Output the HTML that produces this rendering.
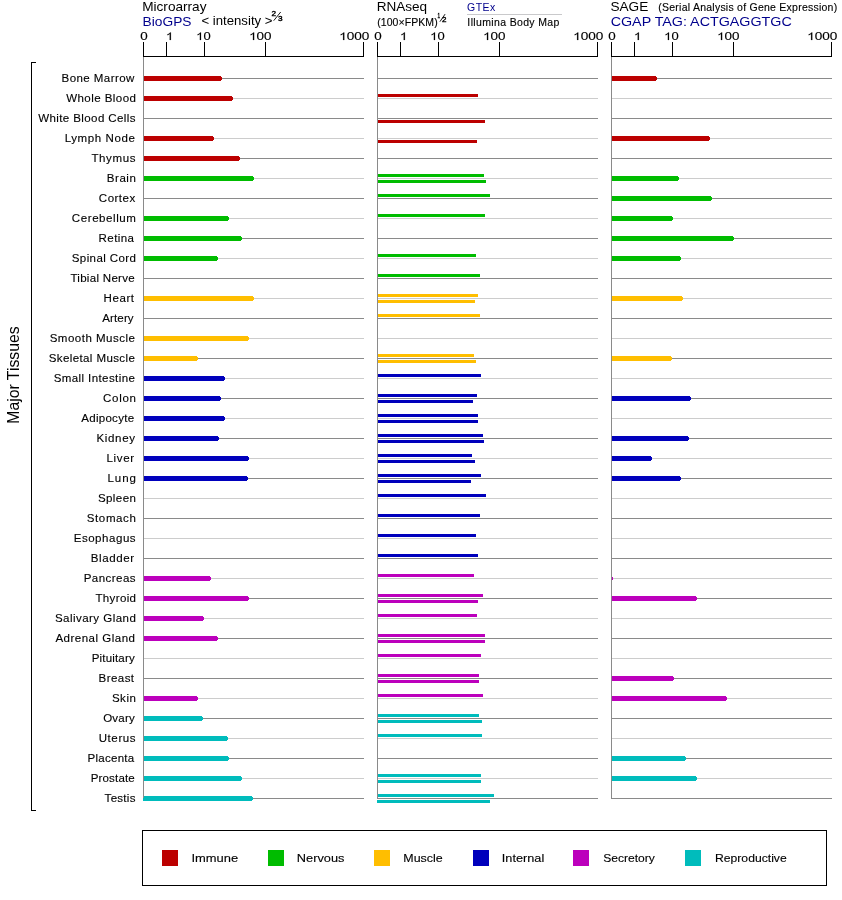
<!DOCTYPE html>
<html><head><meta charset="utf-8"><title>Expression</title>
<style>html,body{margin:0;padding:0;background:#fff;overflow:hidden}svg{display:block;will-change:transform}text{font-family:"Liberation Sans", sans-serif;}</style></head><body>
<svg width="842" height="900" viewBox="0 0 842 900">
<rect width="842" height="900" fill="#fff"/>
<g shape-rendering="crispEdges">
<rect x="143" y="78" width="221" height="1" fill="#8a8a8a"/>
<rect x="377" y="78" width="221" height="1" fill="#8a8a8a"/>
<rect x="611" y="78" width="221" height="1" fill="#8a8a8a"/>
<rect x="143" y="98" width="221" height="1" fill="#cccccc"/>
<rect x="377" y="98" width="221" height="1" fill="#cccccc"/>
<rect x="611" y="98" width="221" height="1" fill="#cccccc"/>
<rect x="143" y="118" width="221" height="1" fill="#8a8a8a"/>
<rect x="377" y="118" width="221" height="1" fill="#8a8a8a"/>
<rect x="611" y="118" width="221" height="1" fill="#8a8a8a"/>
<rect x="143" y="138" width="221" height="1" fill="#cccccc"/>
<rect x="377" y="138" width="221" height="1" fill="#cccccc"/>
<rect x="611" y="138" width="221" height="1" fill="#cccccc"/>
<rect x="143" y="158" width="221" height="1" fill="#8a8a8a"/>
<rect x="377" y="158" width="221" height="1" fill="#8a8a8a"/>
<rect x="611" y="158" width="221" height="1" fill="#8a8a8a"/>
<rect x="143" y="178" width="221" height="1" fill="#cccccc"/>
<rect x="377" y="178" width="221" height="1" fill="#cccccc"/>
<rect x="611" y="178" width="221" height="1" fill="#cccccc"/>
<rect x="143" y="198" width="221" height="1" fill="#8a8a8a"/>
<rect x="377" y="198" width="221" height="1" fill="#8a8a8a"/>
<rect x="611" y="198" width="221" height="1" fill="#8a8a8a"/>
<rect x="143" y="218" width="221" height="1" fill="#cccccc"/>
<rect x="377" y="218" width="221" height="1" fill="#cccccc"/>
<rect x="611" y="218" width="221" height="1" fill="#cccccc"/>
<rect x="143" y="238" width="221" height="1" fill="#8a8a8a"/>
<rect x="377" y="238" width="221" height="1" fill="#8a8a8a"/>
<rect x="611" y="238" width="221" height="1" fill="#8a8a8a"/>
<rect x="143" y="258" width="221" height="1" fill="#cccccc"/>
<rect x="377" y="258" width="221" height="1" fill="#cccccc"/>
<rect x="611" y="258" width="221" height="1" fill="#cccccc"/>
<rect x="143" y="278" width="221" height="1" fill="#8a8a8a"/>
<rect x="377" y="278" width="221" height="1" fill="#8a8a8a"/>
<rect x="611" y="278" width="221" height="1" fill="#8a8a8a"/>
<rect x="143" y="298" width="221" height="1" fill="#cccccc"/>
<rect x="377" y="298" width="221" height="1" fill="#cccccc"/>
<rect x="611" y="298" width="221" height="1" fill="#cccccc"/>
<rect x="143" y="318" width="221" height="1" fill="#8a8a8a"/>
<rect x="377" y="318" width="221" height="1" fill="#8a8a8a"/>
<rect x="611" y="318" width="221" height="1" fill="#8a8a8a"/>
<rect x="143" y="338" width="221" height="1" fill="#cccccc"/>
<rect x="377" y="338" width="221" height="1" fill="#cccccc"/>
<rect x="611" y="338" width="221" height="1" fill="#cccccc"/>
<rect x="143" y="358" width="221" height="1" fill="#8a8a8a"/>
<rect x="377" y="358" width="221" height="1" fill="#8a8a8a"/>
<rect x="611" y="358" width="221" height="1" fill="#8a8a8a"/>
<rect x="143" y="378" width="221" height="1" fill="#cccccc"/>
<rect x="377" y="378" width="221" height="1" fill="#cccccc"/>
<rect x="611" y="378" width="221" height="1" fill="#cccccc"/>
<rect x="143" y="398" width="221" height="1" fill="#8a8a8a"/>
<rect x="377" y="398" width="221" height="1" fill="#8a8a8a"/>
<rect x="611" y="398" width="221" height="1" fill="#8a8a8a"/>
<rect x="143" y="418" width="221" height="1" fill="#cccccc"/>
<rect x="377" y="418" width="221" height="1" fill="#cccccc"/>
<rect x="611" y="418" width="221" height="1" fill="#cccccc"/>
<rect x="143" y="438" width="221" height="1" fill="#8a8a8a"/>
<rect x="377" y="438" width="221" height="1" fill="#8a8a8a"/>
<rect x="611" y="438" width="221" height="1" fill="#8a8a8a"/>
<rect x="143" y="458" width="221" height="1" fill="#cccccc"/>
<rect x="377" y="458" width="221" height="1" fill="#cccccc"/>
<rect x="611" y="458" width="221" height="1" fill="#cccccc"/>
<rect x="143" y="478" width="221" height="1" fill="#8a8a8a"/>
<rect x="377" y="478" width="221" height="1" fill="#8a8a8a"/>
<rect x="611" y="478" width="221" height="1" fill="#8a8a8a"/>
<rect x="143" y="498" width="221" height="1" fill="#cccccc"/>
<rect x="377" y="498" width="221" height="1" fill="#cccccc"/>
<rect x="611" y="498" width="221" height="1" fill="#cccccc"/>
<rect x="143" y="518" width="221" height="1" fill="#8a8a8a"/>
<rect x="377" y="518" width="221" height="1" fill="#8a8a8a"/>
<rect x="611" y="518" width="221" height="1" fill="#8a8a8a"/>
<rect x="143" y="538" width="221" height="1" fill="#cccccc"/>
<rect x="377" y="538" width="221" height="1" fill="#cccccc"/>
<rect x="611" y="538" width="221" height="1" fill="#cccccc"/>
<rect x="143" y="558" width="221" height="1" fill="#8a8a8a"/>
<rect x="377" y="558" width="221" height="1" fill="#8a8a8a"/>
<rect x="611" y="558" width="221" height="1" fill="#8a8a8a"/>
<rect x="143" y="578" width="221" height="1" fill="#cccccc"/>
<rect x="377" y="578" width="221" height="1" fill="#cccccc"/>
<rect x="611" y="578" width="221" height="1" fill="#cccccc"/>
<rect x="143" y="598" width="221" height="1" fill="#8a8a8a"/>
<rect x="377" y="598" width="221" height="1" fill="#8a8a8a"/>
<rect x="611" y="598" width="221" height="1" fill="#8a8a8a"/>
<rect x="143" y="618" width="221" height="1" fill="#cccccc"/>
<rect x="377" y="618" width="221" height="1" fill="#cccccc"/>
<rect x="611" y="618" width="221" height="1" fill="#cccccc"/>
<rect x="143" y="638" width="221" height="1" fill="#8a8a8a"/>
<rect x="377" y="638" width="221" height="1" fill="#8a8a8a"/>
<rect x="611" y="638" width="221" height="1" fill="#8a8a8a"/>
<rect x="143" y="658" width="221" height="1" fill="#cccccc"/>
<rect x="377" y="658" width="221" height="1" fill="#cccccc"/>
<rect x="611" y="658" width="221" height="1" fill="#cccccc"/>
<rect x="143" y="678" width="221" height="1" fill="#8a8a8a"/>
<rect x="377" y="678" width="221" height="1" fill="#8a8a8a"/>
<rect x="611" y="678" width="221" height="1" fill="#8a8a8a"/>
<rect x="143" y="698" width="221" height="1" fill="#cccccc"/>
<rect x="377" y="698" width="221" height="1" fill="#cccccc"/>
<rect x="611" y="698" width="221" height="1" fill="#cccccc"/>
<rect x="143" y="718" width="221" height="1" fill="#8a8a8a"/>
<rect x="377" y="718" width="221" height="1" fill="#8a8a8a"/>
<rect x="611" y="718" width="221" height="1" fill="#8a8a8a"/>
<rect x="143" y="738" width="221" height="1" fill="#cccccc"/>
<rect x="377" y="738" width="221" height="1" fill="#cccccc"/>
<rect x="611" y="738" width="221" height="1" fill="#cccccc"/>
<rect x="143" y="758" width="221" height="1" fill="#8a8a8a"/>
<rect x="377" y="758" width="221" height="1" fill="#8a8a8a"/>
<rect x="611" y="758" width="221" height="1" fill="#8a8a8a"/>
<rect x="143" y="778" width="221" height="1" fill="#cccccc"/>
<rect x="377" y="778" width="221" height="1" fill="#cccccc"/>
<rect x="611" y="778" width="221" height="1" fill="#cccccc"/>
<rect x="143" y="798" width="221" height="1" fill="#8a8a8a"/>
<rect x="377" y="798" width="221" height="1" fill="#8a8a8a"/>
<rect x="611" y="798" width="221" height="1" fill="#8a8a8a"/>
</g>
<g>
<path d="M143 76H221v1h1v3h-1v1H143z" fill="#bc0000" shape-rendering="crispEdges"/>
<path d="M611 76H656v1h1v3h-1v1H611z" fill="#bc0000" shape-rendering="crispEdges"/>
<path d="M143 96H232v1h1v3h-1v1H143z" fill="#bc0000" shape-rendering="crispEdges"/>
<rect x="377" y="94" width="101" height="3" fill="#bc0000" shape-rendering="crispEdges"/>
<rect x="377" y="120" width="108" height="3" fill="#bc0000" shape-rendering="crispEdges"/>
<path d="M143 136H213v1h1v3h-1v1H143z" fill="#bc0000" shape-rendering="crispEdges"/>
<path d="M611 136H709v1h1v3h-1v1H611z" fill="#bc0000" shape-rendering="crispEdges"/>
<rect x="377" y="140" width="100" height="3" fill="#bc0000" shape-rendering="crispEdges"/>
<path d="M143 156H239v1h1v3h-1v1H143z" fill="#bc0000" shape-rendering="crispEdges"/>
<path d="M143 176H253v1h1v3h-1v1H143z" fill="#00bc00" shape-rendering="crispEdges"/>
<path d="M611 176H678v1h1v3h-1v1H611z" fill="#00bc00" shape-rendering="crispEdges"/>
<rect x="377" y="174" width="107" height="3" fill="#00bc00" shape-rendering="crispEdges"/>
<rect x="377" y="180" width="109" height="3" fill="#00bc00" shape-rendering="crispEdges"/>
<path d="M611 196H711v1h1v3h-1v1H611z" fill="#00bc00" shape-rendering="crispEdges"/>
<rect x="377" y="194" width="113" height="3" fill="#00bc00" shape-rendering="crispEdges"/>
<path d="M143 216H228v1h1v3h-1v1H143z" fill="#00bc00" shape-rendering="crispEdges"/>
<path d="M611 216H672v1h1v3h-1v1H611z" fill="#00bc00" shape-rendering="crispEdges"/>
<rect x="377" y="214" width="108" height="3" fill="#00bc00" shape-rendering="crispEdges"/>
<path d="M143 236H241v1h1v3h-1v1H143z" fill="#00bc00" shape-rendering="crispEdges"/>
<path d="M611 236H733v1h1v3h-1v1H611z" fill="#00bc00" shape-rendering="crispEdges"/>
<path d="M143 256H217v1h1v3h-1v1H143z" fill="#00bc00" shape-rendering="crispEdges"/>
<path d="M611 256H680v1h1v3h-1v1H611z" fill="#00bc00" shape-rendering="crispEdges"/>
<rect x="377" y="254" width="99" height="3" fill="#00bc00" shape-rendering="crispEdges"/>
<rect x="377" y="274" width="103" height="3" fill="#00bc00" shape-rendering="crispEdges"/>
<path d="M143 296H253v1h1v3h-1v1H143z" fill="#ffbe00" shape-rendering="crispEdges"/>
<path d="M611 296H682v1h1v3h-1v1H611z" fill="#ffbe00" shape-rendering="crispEdges"/>
<rect x="377" y="294" width="101" height="3" fill="#ffbe00" shape-rendering="crispEdges"/>
<rect x="377" y="300" width="98" height="3" fill="#ffbe00" shape-rendering="crispEdges"/>
<rect x="377" y="314" width="103" height="3" fill="#ffbe00" shape-rendering="crispEdges"/>
<path d="M143 336H248v1h1v3h-1v1H143z" fill="#ffbe00" shape-rendering="crispEdges"/>
<path d="M143 356H197v1h1v3h-1v1H143z" fill="#ffbe00" shape-rendering="crispEdges"/>
<path d="M611 356H671v1h1v3h-1v1H611z" fill="#ffbe00" shape-rendering="crispEdges"/>
<rect x="377" y="354" width="97" height="3" fill="#ffbe00" shape-rendering="crispEdges"/>
<rect x="377" y="360" width="99" height="3" fill="#ffbe00" shape-rendering="crispEdges"/>
<path d="M143 376H224v1h1v3h-1v1H143z" fill="#0000bc" shape-rendering="crispEdges"/>
<rect x="377" y="374" width="104" height="3" fill="#0000bc" shape-rendering="crispEdges"/>
<path d="M143 396H220v1h1v3h-1v1H143z" fill="#0000bc" shape-rendering="crispEdges"/>
<path d="M611 396H690v1h1v3h-1v1H611z" fill="#0000bc" shape-rendering="crispEdges"/>
<rect x="377" y="394" width="100" height="3" fill="#0000bc" shape-rendering="crispEdges"/>
<rect x="377" y="400" width="96" height="3" fill="#0000bc" shape-rendering="crispEdges"/>
<path d="M143 416H224v1h1v3h-1v1H143z" fill="#0000bc" shape-rendering="crispEdges"/>
<rect x="377" y="414" width="101" height="3" fill="#0000bc" shape-rendering="crispEdges"/>
<rect x="377" y="420" width="101" height="3" fill="#0000bc" shape-rendering="crispEdges"/>
<path d="M143 436H218v1h1v3h-1v1H143z" fill="#0000bc" shape-rendering="crispEdges"/>
<path d="M611 436H688v1h1v3h-1v1H611z" fill="#0000bc" shape-rendering="crispEdges"/>
<rect x="377" y="434" width="106" height="3" fill="#0000bc" shape-rendering="crispEdges"/>
<rect x="377" y="440" width="107" height="3" fill="#0000bc" shape-rendering="crispEdges"/>
<path d="M143 456H248v1h1v3h-1v1H143z" fill="#0000bc" shape-rendering="crispEdges"/>
<path d="M611 456H651v1h1v3h-1v1H611z" fill="#0000bc" shape-rendering="crispEdges"/>
<rect x="377" y="454" width="95" height="3" fill="#0000bc" shape-rendering="crispEdges"/>
<rect x="377" y="460" width="98" height="3" fill="#0000bc" shape-rendering="crispEdges"/>
<path d="M143 476H247v1h1v3h-1v1H143z" fill="#0000bc" shape-rendering="crispEdges"/>
<path d="M611 476H680v1h1v3h-1v1H611z" fill="#0000bc" shape-rendering="crispEdges"/>
<rect x="377" y="474" width="104" height="3" fill="#0000bc" shape-rendering="crispEdges"/>
<rect x="377" y="480" width="94" height="3" fill="#0000bc" shape-rendering="crispEdges"/>
<rect x="377" y="494" width="109" height="3" fill="#0000bc" shape-rendering="crispEdges"/>
<rect x="377" y="514" width="103" height="3" fill="#0000bc" shape-rendering="crispEdges"/>
<rect x="377" y="534" width="99" height="3" fill="#0000bc" shape-rendering="crispEdges"/>
<rect x="377" y="554" width="101" height="3" fill="#0000bc" shape-rendering="crispEdges"/>
<path d="M143 576H210v1h1v3h-1v1H143z" fill="#bc00bc" shape-rendering="crispEdges"/>
<path d="M611 576H612v1h1v3h-1v1H611z" fill="#bc00bc" shape-rendering="crispEdges"/>
<rect x="377" y="574" width="97" height="3" fill="#bc00bc" shape-rendering="crispEdges"/>
<path d="M143 596H248v1h1v3h-1v1H143z" fill="#bc00bc" shape-rendering="crispEdges"/>
<path d="M611 596H696v1h1v3h-1v1H611z" fill="#bc00bc" shape-rendering="crispEdges"/>
<rect x="377" y="594" width="106" height="3" fill="#bc00bc" shape-rendering="crispEdges"/>
<rect x="377" y="600" width="101" height="3" fill="#bc00bc" shape-rendering="crispEdges"/>
<path d="M143 616H203v1h1v3h-1v1H143z" fill="#bc00bc" shape-rendering="crispEdges"/>
<rect x="377" y="614" width="100" height="3" fill="#bc00bc" shape-rendering="crispEdges"/>
<path d="M143 636H217v1h1v3h-1v1H143z" fill="#bc00bc" shape-rendering="crispEdges"/>
<rect x="377" y="634" width="108" height="3" fill="#bc00bc" shape-rendering="crispEdges"/>
<rect x="377" y="640" width="108" height="3" fill="#bc00bc" shape-rendering="crispEdges"/>
<rect x="377" y="654" width="104" height="3" fill="#bc00bc" shape-rendering="crispEdges"/>
<path d="M611 676H673v1h1v3h-1v1H611z" fill="#bc00bc" shape-rendering="crispEdges"/>
<rect x="377" y="674" width="102" height="3" fill="#bc00bc" shape-rendering="crispEdges"/>
<rect x="377" y="680" width="102" height="3" fill="#bc00bc" shape-rendering="crispEdges"/>
<path d="M143 696H197v1h1v3h-1v1H143z" fill="#bc00bc" shape-rendering="crispEdges"/>
<path d="M611 696H726v1h1v3h-1v1H611z" fill="#bc00bc" shape-rendering="crispEdges"/>
<rect x="377" y="694" width="106" height="3" fill="#bc00bc" shape-rendering="crispEdges"/>
<path d="M143 716H202v1h1v3h-1v1H143z" fill="#00bcbc" shape-rendering="crispEdges"/>
<rect x="377" y="714" width="102" height="3" fill="#00bcbc" shape-rendering="crispEdges"/>
<rect x="377" y="720" width="105" height="3" fill="#00bcbc" shape-rendering="crispEdges"/>
<path d="M143 736H227v1h1v3h-1v1H143z" fill="#00bcbc" shape-rendering="crispEdges"/>
<rect x="377" y="734" width="105" height="3" fill="#00bcbc" shape-rendering="crispEdges"/>
<path d="M143 756H228v1h1v3h-1v1H143z" fill="#00bcbc" shape-rendering="crispEdges"/>
<path d="M611 756H685v1h1v3h-1v1H611z" fill="#00bcbc" shape-rendering="crispEdges"/>
<path d="M143 776H241v1h1v3h-1v1H143z" fill="#00bcbc" shape-rendering="crispEdges"/>
<path d="M611 776H696v1h1v3h-1v1H611z" fill="#00bcbc" shape-rendering="crispEdges"/>
<rect x="377" y="774" width="104" height="3" fill="#00bcbc" shape-rendering="crispEdges"/>
<rect x="377" y="780" width="104" height="3" fill="#00bcbc" shape-rendering="crispEdges"/>
<path d="M143 796H252v1h1v3h-1v1H143z" fill="#00bcbc" shape-rendering="crispEdges"/>
<rect x="377" y="794" width="117" height="3" fill="#00bcbc" shape-rendering="crispEdges"/>
<rect x="377" y="800" width="113" height="3" fill="#00bcbc" shape-rendering="crispEdges"/>
</g>
<g shape-rendering="crispEdges">
<rect x="143" y="57" width="1" height="741" fill="#8a8a8a"/>
<rect x="143" y="56" width="221" height="1" fill="#000"/>
<rect x="143" y="42" width="1" height="14" fill="#000"/>
<rect x="166" y="42" width="1" height="14" fill="#000"/>
<rect x="204" y="42" width="1" height="14" fill="#000"/>
<rect x="265" y="42" width="1" height="14" fill="#000"/>
<rect x="363" y="42" width="1" height="14" fill="#000"/>
<rect x="377" y="57" width="1" height="741" fill="#8a8a8a"/>
<rect x="377" y="56" width="221" height="1" fill="#000"/>
<rect x="377" y="42" width="1" height="14" fill="#000"/>
<rect x="400" y="42" width="1" height="14" fill="#000"/>
<rect x="438" y="42" width="1" height="14" fill="#000"/>
<rect x="499" y="42" width="1" height="14" fill="#000"/>
<rect x="597" y="42" width="1" height="14" fill="#000"/>
<rect x="611" y="57" width="1" height="741" fill="#8a8a8a"/>
<rect x="611" y="56" width="221" height="1" fill="#000"/>
<rect x="611" y="42" width="1" height="14" fill="#000"/>
<rect x="634" y="42" width="1" height="14" fill="#000"/>
<rect x="672" y="42" width="1" height="14" fill="#000"/>
<rect x="733" y="42" width="1" height="14" fill="#000"/>
<rect x="831" y="42" width="1" height="14" fill="#000"/>
</g><g stroke="#000" stroke-width="0.9" stroke-linecap="butt">
<line x1="273.7" y1="20.7" x2="280.7" y2="12.0"/>
<line x1="439.9" y1="21.7" x2="445.1" y2="14.1"/>
</g><g shape-rendering="crispEdges">
<rect x="467" y="14" width="95" height="1" fill="#c9c9cb"/>
<rect x="31" y="62" width="1" height="749" fill="#000"/>
<rect x="31" y="62" width="5" height="1" fill="#000"/>
<rect x="31" y="810" width="5" height="1" fill="#000"/>
<rect x="142.5" y="830.5" width="684" height="55" fill="none" stroke="#000" stroke-width="1"/>
<rect x="162" y="850" width="16" height="16" fill="#bc0000"/>
<rect x="268" y="850" width="16" height="16" fill="#00bc00"/>
<rect x="374" y="850" width="16" height="16" fill="#ffbe00"/>
<rect x="473" y="850" width="16" height="16" fill="#0000bc"/>
<rect x="573" y="850" width="16" height="16" fill="#bc00bc"/>
<rect x="685" y="850" width="16" height="16" fill="#00bcbc"/>
</g>
<text transform="translate(142.16 11) scale(1.1367 1)" font-size="12" fill="#000">Microarray</text>
<text transform="translate(142.55 25.5) scale(1.1484 1)" font-size="12" fill="#00008c">BioGPS</text>
<text transform="translate(201.44 24.5) scale(1.0992 1)" font-size="12" fill="#000">&lt; intensity &gt;</text>
<text transform="translate(271.62 15.9) scale(1.2667 1)" font-size="6.5" fill="#000" stroke="#000" stroke-width="0.35">2</text>
<text transform="translate(278.02 20.9) scale(1.2667 1)" font-size="6.5" fill="#000" stroke="#000" stroke-width="0.35">3</text>
<text transform="translate(376.67 11) scale(1.1305 1)" font-size="12" fill="#000">RNAseq</text>
<text transform="translate(377.17 26) scale(1.0500 1)" font-size="10" fill="#000" letter-spacing="0.076" stroke="#000" stroke-width="0.12">(100×FPKM)</text>
<text transform="translate(437.54 18.3) scale(0.7143 1)" font-size="6.5" fill="#000" stroke="#000" stroke-width="0.35">1</text>
<text transform="translate(441.93 22.1) scale(1.2333 1)" font-size="6.5" fill="#000" stroke="#000" stroke-width="0.35">2</text>
<text transform="translate(466.98 11) scale(1.0500 1)" font-size="10" fill="#00008c" letter-spacing="0.462">GTEx</text>
<text transform="translate(467.36 26) scale(1.0500 1)" font-size="10" fill="#000" letter-spacing="0.337" stroke="#000" stroke-width="0.12">Illumina Body Map</text>
<text transform="translate(610.42 11) scale(1.1382 1)" font-size="12" fill="#000">SAGE</text>
<text transform="translate(658.27 11) scale(1.0500 1)" font-size="10" fill="#000" letter-spacing="0.233" stroke="#000" stroke-width="0.12">(Serial Analysis of Gene Expression)</text>
<text transform="translate(610.68 25.5) scale(1.1928 1)" font-size="12" fill="#00008c">CGAP TAG: ACTGAGGTGC</text>
<text transform="translate(191.43 862) scale(1.1749 1)" font-size="11" fill="#000" stroke="#000" stroke-width="0.12">Immune</text>
<text transform="translate(296.85 862) scale(1.1641 1)" font-size="11" fill="#000" stroke="#000" stroke-width="0.12">Nervous</text>
<text transform="translate(403.28 862) scale(1.1313 1)" font-size="11" fill="#000" stroke="#000" stroke-width="0.12">Muscle</text>
<text transform="translate(501.84 862) scale(1.1571 1)" font-size="11" fill="#000" stroke="#000" stroke-width="0.12">Internal</text>
<text transform="translate(603.15 862) scale(1.1011 1)" font-size="11" fill="#000" stroke="#000" stroke-width="0.12">Secretory</text>
<text transform="translate(715.00 862) scale(1.1073 1)" font-size="11" fill="#000" stroke="#000" stroke-width="0.12">Reproductive</text>
<text transform="translate(61.55 82) scale(1.0500 1)" font-size="11" fill="#000" letter-spacing="0.407" stroke="#000" stroke-width="0.12">Bone Marrow</text>
<text transform="translate(66.19 102) scale(1.0500 1)" font-size="11" fill="#000" letter-spacing="0.412" stroke="#000" stroke-width="0.12">Whole Blood</text>
<text transform="translate(38.20 122) scale(1.0500 1)" font-size="11" fill="#000" letter-spacing="0.374" stroke="#000" stroke-width="0.12">White Blood Cells</text>
<text transform="translate(64.66 142) scale(1.0500 1)" font-size="11" fill="#000" letter-spacing="0.558" stroke="#000" stroke-width="0.12">Lymph Node</text>
<text transform="translate(91.39 162) scale(1.0500 1)" font-size="11" fill="#000" letter-spacing="0.605" stroke="#000" stroke-width="0.12">Thymus</text>
<text transform="translate(106.76 182) scale(1.0500 1)" font-size="11" fill="#000" letter-spacing="0.523" stroke="#000" stroke-width="0.12">Brain</text>
<text transform="translate(98.87 202) scale(1.0500 1)" font-size="11" fill="#000" letter-spacing="0.442" stroke="#000" stroke-width="0.12">Cortex</text>
<text transform="translate(71.87 222) scale(1.0500 1)" font-size="11" fill="#000" letter-spacing="0.535" stroke="#000" stroke-width="0.12">Cerebellum</text>
<text transform="translate(98.56 242) scale(1.0500 1)" font-size="11" fill="#000" letter-spacing="0.391" stroke="#000" stroke-width="0.12">Retina</text>
<text transform="translate(71.77 262) scale(1.0500 1)" font-size="11" fill="#000" letter-spacing="0.370" stroke="#000" stroke-width="0.12">Spinal Cord</text>
<text transform="translate(70.39 282) scale(1.0500 1)" font-size="11" fill="#000" letter-spacing="0.279" stroke="#000" stroke-width="0.12">Tibial Nerve</text>
<text transform="translate(103.56 302) scale(1.0500 1)" font-size="11" fill="#000" letter-spacing="0.549" stroke="#000" stroke-width="0.12">Heart</text>
<text transform="translate(102.30 322) scale(1.0500 1)" font-size="11" fill="#000" letter-spacing="0.102" stroke="#000" stroke-width="0.12">Artery</text>
<text transform="translate(49.68 342) scale(1.0500 1)" font-size="11" fill="#000" letter-spacing="0.457" stroke="#000" stroke-width="0.12">Smooth Muscle</text>
<text transform="translate(48.68 362) scale(1.0500 1)" font-size="11" fill="#000" letter-spacing="0.367" stroke="#000" stroke-width="0.12">Skeletal Muscle</text>
<text transform="translate(53.68 382) scale(1.0500 1)" font-size="11" fill="#000" letter-spacing="0.377" stroke="#000" stroke-width="0.12">Small Intestine</text>
<text transform="translate(103.07 402) scale(1.0500 1)" font-size="11" fill="#000" letter-spacing="0.650" stroke="#000" stroke-width="0.12">Colon</text>
<text transform="translate(81.30 422) scale(1.0500 1)" font-size="11" fill="#000" letter-spacing="0.251" stroke="#000" stroke-width="0.12">Adipocyte</text>
<text transform="translate(96.46 442) scale(1.0500 1)" font-size="11" fill="#000" letter-spacing="0.622" stroke="#000" stroke-width="0.12">Kidney</text>
<text transform="translate(106.46 462) scale(1.0500 1)" font-size="11" fill="#000" letter-spacing="0.633" stroke="#000" stroke-width="0.12">Liver</text>
<text transform="translate(107.46 482) scale(1.0500 1)" font-size="11" fill="#000" letter-spacing="0.908" stroke="#000" stroke-width="0.12">Lung</text>
<text transform="translate(97.88 502) scale(1.0500 1)" font-size="11" fill="#000" letter-spacing="0.410" stroke="#000" stroke-width="0.12">Spleen</text>
<text transform="translate(86.77 522) scale(1.0500 1)" font-size="11" fill="#000" letter-spacing="0.570" stroke="#000" stroke-width="0.12">Stomach</text>
<text transform="translate(73.66 542) scale(1.0500 1)" font-size="11" fill="#000" letter-spacing="0.502" stroke="#000" stroke-width="0.12">Esophagus</text>
<text transform="translate(90.66 562) scale(1.0500 1)" font-size="11" fill="#000" letter-spacing="0.597" stroke="#000" stroke-width="0.12">Bladder</text>
<text transform="translate(83.66 582) scale(1.0500 1)" font-size="11" fill="#000" letter-spacing="0.427" stroke="#000" stroke-width="0.12">Pancreas</text>
<text transform="translate(95.39 602) scale(1.0500 1)" font-size="11" fill="#000" letter-spacing="0.336" stroke="#000" stroke-width="0.12">Thyroid</text>
<text transform="translate(54.88 622) scale(1.0500 1)" font-size="11" fill="#000" letter-spacing="0.438" stroke="#000" stroke-width="0.12">Salivary Gland</text>
<text transform="translate(55.40 642) scale(1.0500 1)" font-size="11" fill="#000" letter-spacing="0.462" stroke="#000" stroke-width="0.12">Adrenal Gland</text>
<text transform="translate(91.76 662) scale(1.0500 1)" font-size="11" fill="#000" letter-spacing="0.150" stroke="#000" stroke-width="0.12">Pituitary</text>
<text transform="translate(98.56 682) scale(1.0500 1)" font-size="11" fill="#000" letter-spacing="0.411" stroke="#000" stroke-width="0.12">Breast</text>
<text transform="translate(111.88 702) scale(1.0500 1)" font-size="11" fill="#000" letter-spacing="0.505" stroke="#000" stroke-width="0.12">Skin</text>
<text transform="translate(103.17 722) scale(1.0500 1)" font-size="11" fill="#000" letter-spacing="0.181" stroke="#000" stroke-width="0.12">Ovary</text>
<text transform="translate(98.66 742) scale(1.0500 1)" font-size="11" fill="#000" letter-spacing="0.560" stroke="#000" stroke-width="0.12">Uterus</text>
<text transform="translate(87.46 762) scale(1.0500 1)" font-size="11" fill="#000" letter-spacing="0.259" stroke="#000" stroke-width="0.12">Placenta</text>
<text transform="translate(90.66 782) scale(1.0500 1)" font-size="11" fill="#000" letter-spacing="0.152" stroke="#000" stroke-width="0.12">Prostate</text>
<text transform="translate(104.59 802) scale(1.0500 1)" font-size="11" fill="#000" letter-spacing="0.262" stroke="#000" stroke-width="0.12">Testis</text>
<text transform="translate(140.28 40) scale(1.2171 1)" font-size="11" stroke="#000" stroke-width="0.15">0</text>
<path transform="translate(165.97 40) scale(0.006445 -0.005141)" d="M763 0H583V1147Q518 1085 412.5 1023T223 930V1104Q374 1175 487 1276T647 1472H763Z" stroke="#000" stroke-width="30"/>
<path transform="translate(196.19 40) scale(0.006329 -0.005141)" d="M763 0H583V1147Q518 1085 412.5 1023T223 930V1104Q374 1175 487 1276T647 1472H763Z" stroke="#000" stroke-width="30"/>
<text transform="translate(203.40 40) scale(1.1784 1)" font-size="11" stroke="#000" stroke-width="0.15">0</text>
<path transform="translate(249.14 40) scale(0.006551 -0.005141)" d="M763 0H583V1147Q518 1085 412.5 1023T223 930V1104Q374 1175 487 1276T647 1472H763Z" stroke="#000" stroke-width="30"/>
<text transform="translate(256.60 40) scale(1.2197 1)" font-size="11" stroke="#000" stroke-width="0.15">00</text>
<path transform="translate(339.22 40) scale(0.006631 -0.005141)" d="M763 0H583V1147Q518 1085 412.5 1023T223 930V1104Q374 1175 487 1276T647 1472H763Z" stroke="#000" stroke-width="30"/>
<text transform="translate(346.77 40) scale(1.2345 1)" font-size="11" stroke="#000" stroke-width="0.15">000</text>
<text transform="translate(374.28 40) scale(1.2171 1)" font-size="11" stroke="#000" stroke-width="0.15">0</text>
<path transform="translate(399.97 40) scale(0.006445 -0.005141)" d="M763 0H583V1147Q518 1085 412.5 1023T223 930V1104Q374 1175 487 1276T647 1472H763Z" stroke="#000" stroke-width="30"/>
<path transform="translate(430.19 40) scale(0.006329 -0.005141)" d="M763 0H583V1147Q518 1085 412.5 1023T223 930V1104Q374 1175 487 1276T647 1472H763Z" stroke="#000" stroke-width="30"/>
<text transform="translate(437.40 40) scale(1.1784 1)" font-size="11" stroke="#000" stroke-width="0.15">0</text>
<path transform="translate(483.14 40) scale(0.006551 -0.005141)" d="M763 0H583V1147Q518 1085 412.5 1023T223 930V1104Q374 1175 487 1276T647 1472H763Z" stroke="#000" stroke-width="30"/>
<text transform="translate(490.60 40) scale(1.2197 1)" font-size="11" stroke="#000" stroke-width="0.15">00</text>
<path transform="translate(573.22 40) scale(0.006631 -0.005141)" d="M763 0H583V1147Q518 1085 412.5 1023T223 930V1104Q374 1175 487 1276T647 1472H763Z" stroke="#000" stroke-width="30"/>
<text transform="translate(580.77 40) scale(1.2345 1)" font-size="11" stroke="#000" stroke-width="0.15">000</text>
<text transform="translate(608.28 40) scale(1.2171 1)" font-size="11" stroke="#000" stroke-width="0.15">0</text>
<path transform="translate(633.97 40) scale(0.006445 -0.005141)" d="M763 0H583V1147Q518 1085 412.5 1023T223 930V1104Q374 1175 487 1276T647 1472H763Z" stroke="#000" stroke-width="30"/>
<path transform="translate(664.19 40) scale(0.006329 -0.005141)" d="M763 0H583V1147Q518 1085 412.5 1023T223 930V1104Q374 1175 487 1276T647 1472H763Z" stroke="#000" stroke-width="30"/>
<text transform="translate(671.40 40) scale(1.1784 1)" font-size="11" stroke="#000" stroke-width="0.15">0</text>
<path transform="translate(717.14 40) scale(0.006551 -0.005141)" d="M763 0H583V1147Q518 1085 412.5 1023T223 930V1104Q374 1175 487 1276T647 1472H763Z" stroke="#000" stroke-width="30"/>
<text transform="translate(724.60 40) scale(1.2197 1)" font-size="11" stroke="#000" stroke-width="0.15">00</text>
<path transform="translate(807.22 40) scale(0.006631 -0.005141)" d="M763 0H583V1147Q518 1085 412.5 1023T223 930V1104Q374 1175 487 1276T647 1472H763Z" stroke="#000" stroke-width="30"/>
<text transform="translate(814.77 40) scale(1.2345 1)" font-size="11" stroke="#000" stroke-width="0.15">000</text>
<text transform="translate(19.2 423.68) rotate(-90) scale(0.9866 1.0265)" font-size="16">Major Tissues</text>
</svg></body></html>
